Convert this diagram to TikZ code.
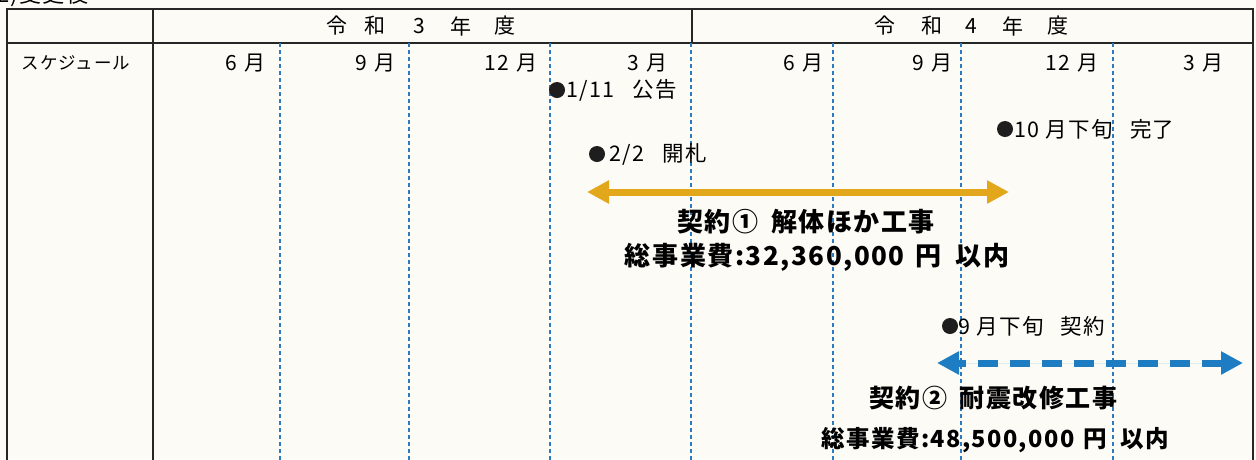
\documentclass[tikz,border=0pt]{standalone}
\usepackage{fontspec}
\setmainfont{Noto Sans CJK JP}[LetterSpace=6]
\newfontfamily\ctrfont{Noto Sans CJK JP}[LetterSpace=6]
\usetikzlibrary{arrows.meta}
\definecolor{paper}{HTML}{FCFBF5}
\definecolor{gridblue}{HTML}{2C7BC0}
\definecolor{goldarrow}{HTML}{E3A71C}
\definecolor{bluearrow}{HTML}{1E7DC2}
\definecolor{dotcol}{HTML}{1E1E1E}
\tikzset{
  frame/.style={draw=black!85, line width=1.4pt},
  monthline/.style={draw=gridblue, line width=1.2pt, dash pattern=on 4pt off 3pt},
  yearchar/.style={inner sep=0pt, font=\fontsize{21}{21}\selectfont},
  monthlbl/.style={inner sep=0pt, anchor=east, font=\fontsize{21}{21}\selectfont},
  evtdot/.style={circle, fill=dotcol, inner sep=0pt, minimum size=16pt},
  evtlbl/.style={inner sep=0pt, anchor=west, font=\fontsize{21.5}{21.5}\selectfont},
  contract/.style={inner sep=0pt, font=\ctrfont\bfseries\fontsize{26}{26}\selectfont},
  span/.style={line width=7pt, {Triangle[width=22pt,length=22pt]}-{Triangle[width=22pt,length=22pt]}},
}
\begin{document}
\begin{tikzpicture}[x=1pt,y=-1pt]
\useasboundingbox (0,0) rectangle (1256,459);
\clip (0,0) rectangle (1256,459);
\fill[paper] (0,0) rectangle (1256,459);
% heading cut off at top
\node[inner sep=0pt, anchor=base west, font=\fontsize{22}{22}\selectfont] (title) at (-3,2) {2)変更後};
% table frame
\draw[frame] (7,470) -- (7,9) -- (1253,9) -- (1253,470);
\draw[frame] (7,43) -- (1253,43);
\draw[frame] (153,9) -- (153,470);
\draw[frame] (692,9) -- (692,43);
% month grid lines
\foreach \x/\n in {280/a,409/b,550/c,691/d,833/e,961/f,1113/g}{
  \coordinate (top\n) at (\x,43);
  \coordinate (bot\n) at (\x,470);
  \draw[monthline] (top\n) -- (bot\n);
}
% year labels
\foreach \x/\c/\n in {337/令/1,375/和/2,419/3/3,461/年/4,505/度/5}{
  \node[yearchar] (ya\n) at (\x,26) {\c};
}
\foreach \x/\c/\n in {885/令/1,932/和/2,971/4/3,1013/年/4,1058/度/5}{
  \node[yearchar] (yb\n) at (\x,26) {\c};
}
% row label
\node[inner sep=0pt, font=\fontsize{17.5}{17.5}\selectfont] (sched) at (76,63) {スケジュール};
% month labels
\node[monthlbl] (m1) at (266,63) {6\hspace{0.35em}月};
\node[monthlbl] (m2) at (396,63) {9\hspace{0.35em}月};
\node[monthlbl] (m3) at (538,63) {12\hspace{0.35em}月};
\node[monthlbl] (m4) at (668,63) {3\hspace{0.35em}月};
\node[monthlbl] (m5) at (824,63) {6\hspace{0.35em}月};
\node[monthlbl] (m6) at (953,63) {9\hspace{0.35em}月};
\node[monthlbl] (m7) at (1099,63) {12\hspace{0.35em}月};
\node[monthlbl] (m8) at (1224,63) {3\hspace{0.35em}月};
% events
\node[evtdot] (d1) at (557,90) {};
\node[evtlbl] (t1) at (566,90) {1/11\hspace{0.85em}公告};
\node[evtdot] (d2) at (597,154) {};
\node[evtlbl] (t2) at (609,154) {2/2\hspace{0.85em}開札};
\node[evtdot] (d3) at (1005,129) {};
\node[evtlbl] (t3) at (1014,129) {10\hspace{0.3em}月下旬\hspace{0.8em}完了};
\node[evtdot] (d4) at (950,326) {};
\node[evtlbl] (t4) at (958,326) {9\hspace{0.3em}月下旬\hspace{0.8em}契約};
% contract 1
\coordinate (c1l) at (587,192);
\coordinate (c1r) at (1009,192);
\draw[span, draw=goldarrow, fill=goldarrow] (c1l) -- (c1r);
\node[contract] (k1) at (806,222) {契約①\hspace{0.5em}解体ほか工事};
\node[contract] (k1c) at (817,257) {総事業費:32,360,000\hspace{0.4em}円\hspace{0.55em}以内};
% contract 2
\coordinate (c2l) at (937,363);
\coordinate (c2r) at (1243,363);
\draw[span, draw=bluearrow, fill=bluearrow, dash pattern=on 20pt off 12pt, dash phase=-20pt] (c2l) -- (c2r);
\node[contract, font=\ctrfont\bfseries\fontsize{25}{25}\selectfont] (k2) at (993,398) {契約②\hspace{0.5em}耐震改修工事};
\node[contract, font=\ctrfont\bfseries\fontsize{23.5}{23.5}\selectfont] (k2c) at (995,440) {総事業費:48,500,000\hspace{0.4em}円\hspace{0.55em}以内};
\end{tikzpicture}
\end{document}
